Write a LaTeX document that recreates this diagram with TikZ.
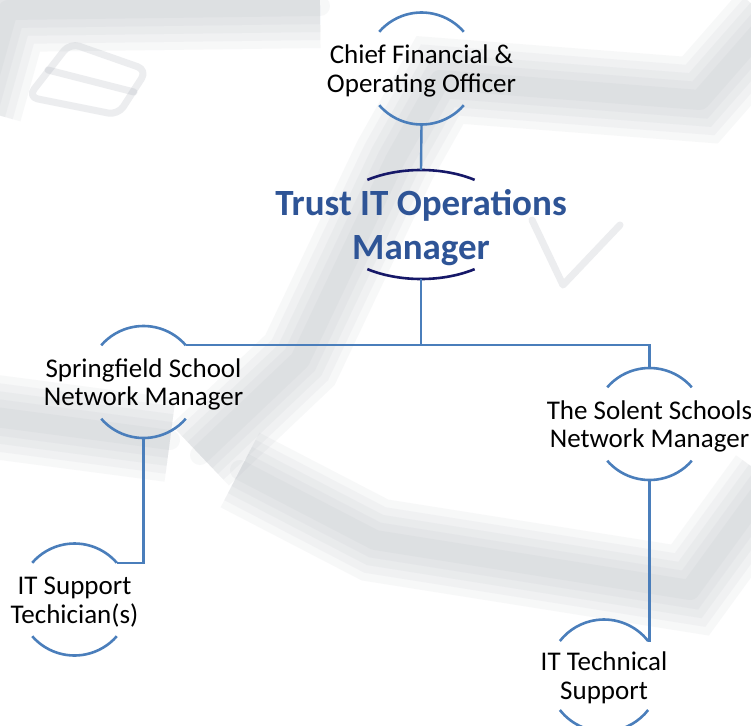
\documentclass[tikz,border=0pt]{standalone}
\usepackage{fontspec}
\setmainfont{Carlito}
\definecolor{roleblue}{RGB}{74,126,187}
\definecolor{headnavy}{RGB}{22,24,104}
\definecolor{headtext}{RGB}{46,84,150}
\definecolor{keygrey}{RGB}{160,166,176}
\newcommand{\rolename}[2]{\raisebox{-4pt}[\height][\depth]{\makebox[0pt]{\begin{tabular}{@{}c@{}}#1\\#2\end{tabular}}}}
\tikzset{%
    role/.style={circle,minimum size=112pt,inner sep=0pt,outer sep=0pt,
        font=\fontsize{27}{28.5}\selectfont}
}

\begin{document}
\begin{tikzpicture}[
        x=1pt, y=1pt,
        head/.style={rectangle,minimum height=109pt,inner sep=0pt,outer sep=0pt,
            text=headtext,font=\fontsize{37}{44}\selectfont\bfseries},
        rim/.style={draw=roleblue,line width=2.6pt},
        headrim/.style={draw=headnavy,line width=2.6pt},
        link/.style={draw=roleblue,line width=2.4pt},
        keyshade/.style={draw=keygrey,opacity=.08,line cap=round,line join=round,
            line width=20pt,
            preaction={draw=keygrey,opacity=.08,line width=36pt},
            preaction={draw=keygrey,opacity=.08,line width=52pt},
            preaction={draw=keygrey,opacity=.08,line width=68pt},
            preaction={draw=keygrey,opacity=.08,line width=84pt}},
        keymark/.style={draw=keygrey,opacity=.2,line width=7pt,line cap=round,line join=round}
        ]
        \useasboundingbox (0,0) rectangle (751,-725);

        % faded keyboard behind the chart
        \fill[white] (0,0) rectangle (751,-725);
        \draw[keyshade] (-20,-110) -- (8,-10) -- (320,-6);
        \draw[keyshade] (200,-455) -- (300,-360) -- (395,-160) -- (440,-80) -- (700,-100) -- (770,-20);
        \draw[keyshade] (-20,-415) -- (170,-440);
        \draw[keyshade] (240,-470) -- (375,-540) -- (690,-590) -- (770,-480);
        \draw[keymark,rounded corners=10pt] (70,-43) -- (147,-70) -- (118,-115) -- (28,-97) -- cycle;
        \draw[keymark] (48,-70) -- (134,-92);
        \draw[keymark] (532,-220) -- (563,-285) -- (620,-225);

        \node[role] (cfo) at (421.5,-68.5) {\rolename{Chief Financial \&}{Operating Officer}};
        \node[head] (tom) at (421,-224.5) {\raisebox{-4pt}[\height][\depth]{\begin{tabular}{@{}c@{}}Trust IT Operations\\Manager\end{tabular}}};
        \node[role] (ssn) at (143.5,-382) {\rolename{Springfield School}{Network Manager}};
        \node[role] (snm) at (649.5,-424) {\rolename{The Solent Schools}{Network Manager}};
        \node[role] (sup) at (74.5,-599.5) {\rolename{IT Support}{Techician(s)}};
        \node[role] (its) at (604,-675.5) {\rolename{IT Technical}{Support}};

        \draw[rim] (cfo.41) arc (41:139:56pt);
        \draw[rim] (cfo.221) arc (221:319:56pt);
        \draw[rim] (ssn.41) arc (41:139:56pt);
        \draw[rim] (ssn.221) arc (221:319:56pt);
        \draw[rim] (snm.41) arc (41:139:56pt);
        \draw[rim] (snm.221) arc (221:319:56pt);
        \draw[rim] (sup.41) arc (41:139:56pt);
        \draw[rim] (sup.221) arc (221:319:56pt);
        \draw[rim] (its.38) arc (38:142:56pt);
        \draw[rim] (its.218) arc (218:322:56pt);
        \draw[headrim] ([shift={(55:93.5pt and 54.5pt)}]tom.center)
            arc[start angle=55,end angle=125,x radius=93.5pt,y radius=54.5pt];
        \draw[headrim] ([shift={(235:93.5pt and 54.5pt)}]tom.center)
            arc[start angle=235,end angle=305,x radius=93.5pt,y radius=54.5pt];

        \draw[link] (cfo.south) -- (tom.north);
        \draw[link] (tom.south) |- (ssn.41);
        \draw[link] (tom.south) -- (tom.south |- ssn.41) -| (snm.north);
        \draw[link] (ssn.south) |- (sup.41);
        \draw[link] (snm.south) |- (its.38);
\end{tikzpicture}
\end{document}
